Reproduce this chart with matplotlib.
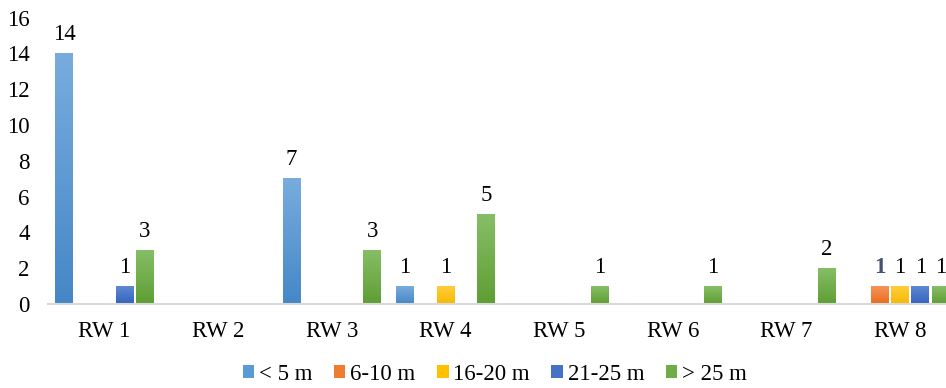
import numpy as np
import matplotlib
matplotlib.use("Agg")
import matplotlib.pyplot as plt
from matplotlib.patches import Patch
from matplotlib.colors import to_rgb

categories = ["RW 1", "RW 2", "RW 3", "RW 4", "RW 5", "RW 6", "RW 7", "RW 8"]
series_names = ["< 5 m", "6-10 m", "16-20 m", "21-25 m", "> 25 m"]
lt5 = [14, 0, 7, 1, 0, 0, 0, 0]
m6_10 = [0, 0, 0, 0, 0, 0, 0, 1]
m16_20 = [0, 0, 0, 1, 0, 0, 0, 1]
m21_25 = [1, 0, 0, 0, 0, 0, 0, 1]
gt25 = [3, 0, 3, 5, 1, 1, 2, 1]
series_values = [lt5, m6_10, m16_20, m21_25, gt25]
yticks = [0, 2, 4, 6, 8, 10, 12, 14, 16]

# (top, bottom) gradient colours per series
grad = [("#78ACDD", "#4587C7"),
        ("#F5935A", "#E86D1C"),
        ("#FFCD3C", "#F7B900"),
        ("#5E89D0", "#3362BD"),
        ("#86BE66", "#5F9E33")]
base = ["#5B9BD5", "#ED7D31", "#FFC000", "#4472C4", "#70AD47"]

plt.rcParams["font.family"] = ["Liberation Serif", "DejaVu Serif"]
FS = 16.5

fig = plt.figure(figsize=(9.46, 3.88), dpi=100)
ax = fig.add_axes([0.0504, 0.2165, 0.961, 0.738])

x = np.arange(len(categories))
slot = 0.178
bw = 0.154

for i, (vals, (ctop, cbot)) in enumerate(zip(series_values, grad)):
    offs = (i - 2) * slot
    bars = ax.bar(x + offs, vals, width=bw, color="none", edgecolor="none", zorder=2)
    t = np.array(to_rgb(ctop))
    b = np.array(to_rgb(cbot))
    for bar, v in zip(bars, vals):
        if v <= 0:
            continue
        x0 = bar.get_x()
        x1 = x0 + bar.get_width()
        f = np.linspace(0, 1, 64)[:, None]
        img = (t * (1 - f) + b * f)[:, None, :]
        ax.imshow(img, extent=(x0, x1, 0, v), aspect="auto", origin="upper",
                  zorder=2, interpolation="bilinear")
        first_small = (i == 1)
        ax.annotate(str(v), (bar.get_x() + bar.get_width() / 2, v),
                    xytext=(0, 6), textcoords="offset points",
                    ha="center", va="bottom", fontsize=FS,
                    color="#44546A" if first_small else "black",
                    fontweight="bold" if first_small else "normal")

ax.set_xlim(-0.5, len(categories) - 0.5)
ax.set_ylim(0, 16)
ax.set_xticks(x)
ax.set_xticklabels(categories, fontsize=FS)
ax.set_yticks(yticks)
ax.set_yticklabels([str(v) for v in yticks], fontsize=FS)
ax.tick_params(axis="both", length=0)
ax.tick_params(axis="x", pad=12)
ax.tick_params(axis="y", pad=13)
for s in ["top", "right", "left"]:
    ax.spines[s].set_visible(False)
ax.spines["bottom"].set_color("#D9D9D9")
ax.spines["bottom"].set_linewidth(1.5)
ax.spines["bottom"].set_zorder(3)

handles = [Patch(facecolor=c, edgecolor="none") for c in base]
fig.legend(handles, series_names, loc="center", bbox_to_anchor=(0.523, 0.036),
           ncol=5, frameon=False, fontsize=FS, handlelength=0.5, handleheight=0.5,
           handletextpad=0.2, columnspacing=0.95, borderpad=0.1)

fig.savefig("out.png", dpi=100)
